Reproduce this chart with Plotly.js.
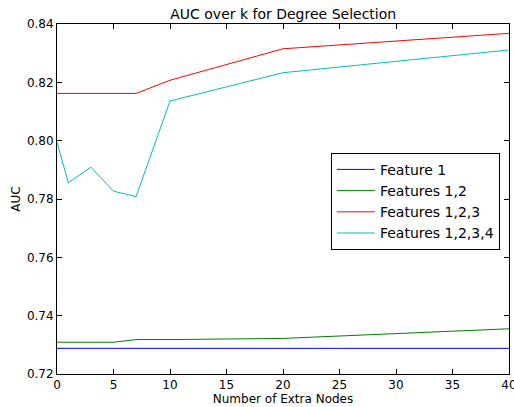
<!DOCTYPE html>
<html><head><meta charset="utf-8">
<script src="https://cdn.plot.ly/plotly-3.0.1.min.js"></script>
<style>html,body{margin:0;padding:0;background:#fff}#c{width:514px;height:407px}</style>
</head><body><div id="c"></div>
<script>
const k = [0, 1, 3, 5, 7, 10, 20, 40];
const feature1 = [0.7288, 0.7288, 0.7288, 0.7288, 0.7288, 0.7288, 0.7288, 0.7288];
const features12 = [0.7309, 0.7309, 0.7309, 0.7309, 0.7318, 0.7318, 0.7322, 0.7355];
const features123 = [0.8162, 0.8162, 0.8162, 0.8162, 0.8162, 0.8207, 0.8315, 0.8368];
const features1234 = [0.7995, 0.7856, 0.7909, 0.7827, 0.7808, 0.8136, 0.8233, 0.8311];
const names = ["Feature 1", "Features 1,2", "Features 1,2,3", "Features 1,2,3,4"];
const colors = ["#0000ff", "#008000", "#ff0000", "#00bfbf"];
const series = [feature1, features12, features123, features1234];
const xTicks = [0, 5, 10, 15, 20, 25, 30, 35, 40];
const yTicks = [0.72, 0.74, 0.76, 0.78, 0.80, 0.82, 0.84];

const traces = series.map((s, i) => ({
  x: k, y: s, type: 'scatter', mode: 'lines', name: names[i],
  line: {color: colors[i], width: 1}
}));
const font = {family: 'DejaVu Sans', size: 12, color: '#000'};
const axisBase = {showgrid: false, zeroline: false, showline: true, linecolor: '#000', linewidth: 1,
  mirror: 'ticks', ticks: 'inside', ticklen: 5, tickcolor: '#000', ticklabeloverflow: 'allow',
  tickfont: {family: 'DejaVu Sans', size: 12, color: '#000'}};
Plotly.newPlot('c', traces, {
  width: 514, height: 407,
  margin: {l: 57, r: 5, t: 24, b: 33},
  paper_bgcolor: '#fff', plot_bgcolor: '#fff',
  font: font,
  title: {text: 'AUC over k for Degree Selection', font: {family: 'DejaVu Sans', size: 14, color: '#000'}, x: 0.551, xanchor: 'center', y: 0.965, yanchor: 'middle'},
  xaxis: Object.assign({}, axisBase, {range: [0, 40], tickvals: xTicks, ticktext: xTicks.map(String),
    title: {text: 'Number of Extra Nodes', font: {family: 'DejaVu Sans', size: 12, color: '#000'}, standoff: 3}}),
  yaxis: Object.assign({}, axisBase, {range: [0.72, 0.84], tickvals: yTicks, ticktext: yTicks.map(v => v.toFixed(2)),
    title: {text: 'AUC', font: {family: 'DejaVu Sans', size: 12, color: '#000'}, standoff: 3}}),
  legend: {x: 0.606, y: 0.632, xanchor: 'left', yanchor: 'top', bgcolor: '#fff', bordercolor: '#000', borderwidth: 1,
    font: {family: 'DejaVu Sans', size: 14, color: '#000'}, tracegroupgap: 0, itemwidth: 38},
  showlegend: true
}, {displayModeBar: false, staticPlot: true});
</script></body></html>
